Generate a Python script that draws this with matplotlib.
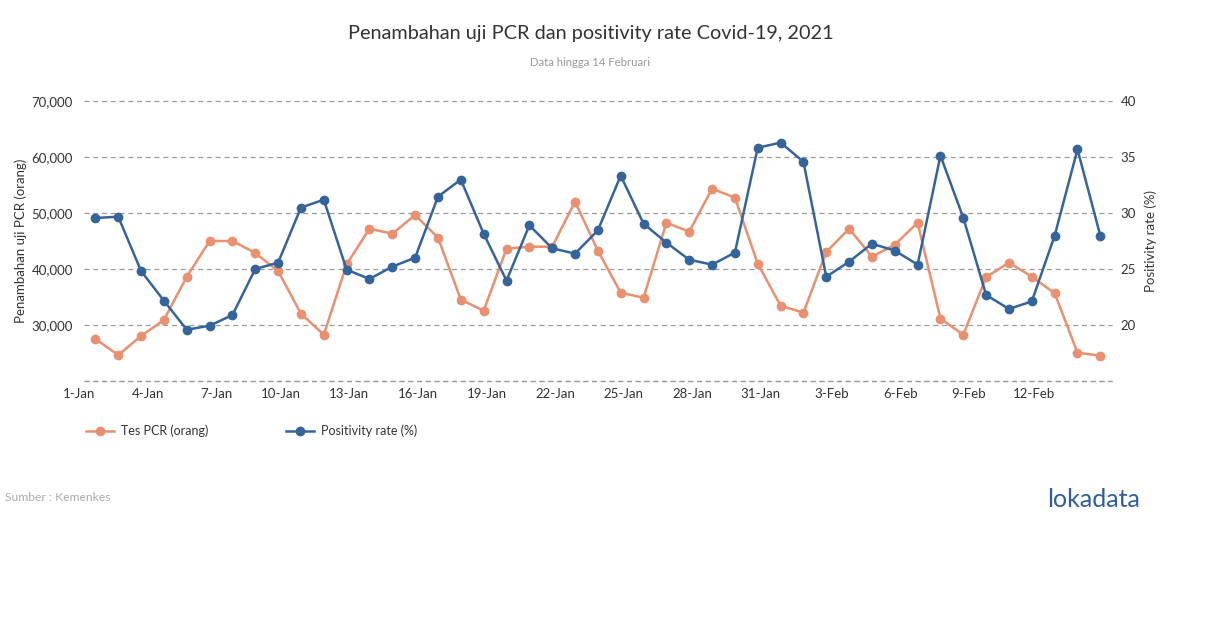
import matplotlib.pyplot as plt
import numpy as np

plt.rcParams['font.family'] = ['Lato', 'DejaVu Sans']

# data, 1 Jan - 14 Feb 2021
dates = ['1-Jan', '2-Jan', '3-Jan', '4-Jan', '5-Jan', '6-Jan', '7-Jan', '8-Jan', '9-Jan',
         '10-Jan', '11-Jan', '12-Jan', '13-Jan', '14-Jan', '15-Jan', '16-Jan', '17-Jan',
         '18-Jan', '19-Jan', '20-Jan', '21-Jan', '22-Jan', '23-Jan', '24-Jan', '25-Jan',
         '26-Jan', '27-Jan', '28-Jan', '29-Jan', '30-Jan', '31-Jan', '1-Feb', '2-Feb',
         '3-Feb', '4-Feb', '5-Feb', '6-Feb', '7-Feb', '8-Feb', '9-Feb', '10-Feb', '11-Feb',
         '12-Feb', '13-Feb', '14-Feb']
tes_pcr = [27500, 24640, 28040, 30900, 38630, 45000, 45000, 42860, 39640, 32020,
           28270, 40830, 47200, 46300, 49640, 45590, 34520, 32550, 43630, 43980,
           43980, 52020, 43270, 35770, 34870, 48270, 46660, 54340, 52730, 40950,
           33450, 32200, 43040, 47200, 42200, 44340, 48270, 31130, 28270, 38570,
           41130, 38630, 35660, 25050, 24520]
positivity = [29.55, 29.67, 24.82, 22.17, 19.58, 19.94, 20.89, 25.0, 25.57, 30.48,
              31.19, 24.94, 24.11, 25.21, 26.01, 31.46, 32.98, 28.15, 23.96, 28.9,
              26.85, 26.37, 28.45, 33.33, 29.05, 27.35, 25.83, 25.39, 26.46, 35.83,
              36.28, 34.58, 24.31, 25.65, 27.26, 26.64, 25.39, 35.12, 29.58, 22.68,
              21.43, 22.11, 27.97, 35.68, 27.97]

orange = '#E8906F'
blue = '#35649B'
txt = '#333333'
grid_col = '#9a9a9a'

fig = plt.figure(figsize=(12.1, 6.28), dpi=100)
ax = fig.add_axes([0.0694, 0.3933, 0.8494, 0.4459])
ax2 = ax.twinx()

x = np.arange(len(dates))
ax.plot(x, tes_pcr, color=orange, lw=1.8, marker='o', ms=6, label='Tes PCR (orang)')
ax2.plot(x, positivity, color=blue, lw=1.8, marker='o', ms=6, label='Positivity rate (%)')

ax.set_xlim(-0.5, 44.5)
ax.set_ylim(20000, 70000)
ax2.set_ylim(15, 40)

lticks = [20000, 30000, 40000, 50000, 60000, 70000]
ax.set_yticks(lticks)
ax.set_yticklabels([''] + [f'{t:,}' for t in lticks[1:]])
rticks = [15, 20, 25, 30, 35, 40]
ax2.set_yticks(rticks)
ax2.set_yticklabels([''] + [str(t) for t in rticks[1:]])

ax.set_xticks(x[::3])
ax.set_xticklabels(dates[::3], ha='right')

ax.grid(axis='y', color=grid_col, ls=(0, (4, 3)), lw=0.9)
for gl in ax.get_ygridlines():
    gl.set_clip_on(False)
# bottom gridline sits on the axis edge
ax.axhline(lticks[0], color=grid_col, ls=(0, (4, 3)), lw=0.9, clip_on=False, zorder=0)
ax.set_axisbelow(True)
for a in (ax, ax2):
    for s in a.spines.values():
        s.set_visible(False)
    a.tick_params(length=0, labelsize=9.5, colors=txt)
ax.tick_params(axis='y', pad=8)
ax2.tick_params(axis='y', pad=6.5)
ax.tick_params(axis='x', pad=5)

ax.set_ylabel('Penambahan uji PCR (orang)', fontsize=9.5, color=txt, labelpad=3)
ax2.set_ylabel('Positivity rate (%)', fontsize=9.5, color=txt, labelpad=6)

fig.text(0.488, 0.947, 'Penambahan uji PCR dan positivity rate Covid-19, 2021',
         ha='center', va='center', fontsize=14.3, color=txt)
fig.text(0.488, 0.901, 'Data hingga 14 Februari', ha='center', va='center',
         fontsize=8.2, color='#999999')

h1, l1 = ax.get_legend_handles_labels()
h2, l2 = ax2.get_legend_handles_labels()
fig.legend(h1 + h2, l1 + l2, loc='center left', bbox_to_anchor=(0.062, 0.314),
           ncol=2, frameon=False, fontsize=9, handlelength=2.2, columnspacing=6.2,
           handletextpad=0.6, labelcolor=txt)

fig.text(0.004, 0.208, 'Sumber : Kemenkes', ha='left', va='center', fontsize=8.7,
         color='#aaaaaa')
fig.text(0.942, 0.205, 'lokadata', ha='right', va='center', fontsize=18,
         color='#2f5d9e')

fig.savefig('out.png', dpi=100)
